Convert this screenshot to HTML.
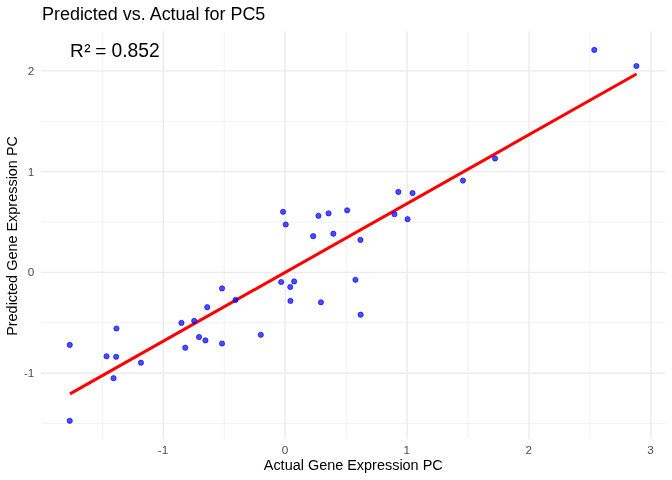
<!DOCTYPE html>
<html><head><meta charset="utf-8"><style>
html,body{margin:0;padding:0;background:#fff;}
svg{display:block;will-change:transform;}
text{font-family:"Liberation Sans",sans-serif;}
.ax{font-size:11.73px;fill:#4D4D4D;}
.ti{font-size:14.45px;fill:#000;}
</style></head><body>
<svg width="672" height="480" viewBox="0 0 672 480">
<rect width="672" height="480" fill="#fff"/>
<line x1="41.1" x2="664.9" y1="423.55" y2="423.55" stroke="#EBEBEB" stroke-width="0.71"/><line x1="41.1" x2="664.9" y1="322.78" y2="322.78" stroke="#EBEBEB" stroke-width="0.71"/><line x1="41.1" x2="664.9" y1="222.01" y2="222.01" stroke="#EBEBEB" stroke-width="0.71"/><line x1="41.1" x2="664.9" y1="121.24" y2="121.24" stroke="#EBEBEB" stroke-width="0.71"/><line x1="102.35" x2="102.35" y1="31.5" y2="439.2" stroke="#EBEBEB" stroke-width="0.71"/><line x1="224.25" x2="224.25" y1="31.5" y2="439.2" stroke="#EBEBEB" stroke-width="0.71"/><line x1="346.15" x2="346.15" y1="31.5" y2="439.2" stroke="#EBEBEB" stroke-width="0.71"/><line x1="468.05" x2="468.05" y1="31.5" y2="439.2" stroke="#EBEBEB" stroke-width="0.71"/><line x1="589.95" x2="589.95" y1="31.5" y2="439.2" stroke="#EBEBEB" stroke-width="0.71"/><line x1="41.1" x2="664.9" y1="373.17" y2="373.17" stroke="#EBEBEB" stroke-width="1.42"/><line x1="41.1" x2="664.9" y1="272.40" y2="272.40" stroke="#EBEBEB" stroke-width="1.42"/><line x1="41.1" x2="664.9" y1="171.63" y2="171.63" stroke="#EBEBEB" stroke-width="1.42"/><line x1="41.1" x2="664.9" y1="70.86" y2="70.86" stroke="#EBEBEB" stroke-width="1.42"/><line x1="163.30" x2="163.30" y1="31.5" y2="439.2" stroke="#EBEBEB" stroke-width="1.42"/><line x1="285.20" x2="285.20" y1="31.5" y2="439.2" stroke="#EBEBEB" stroke-width="1.42"/><line x1="407.10" x2="407.10" y1="31.5" y2="439.2" stroke="#EBEBEB" stroke-width="1.42"/><line x1="529.00" x2="529.00" y1="31.5" y2="439.2" stroke="#EBEBEB" stroke-width="1.42"/><line x1="650.90" x2="650.90" y1="31.5" y2="439.2" stroke="#EBEBEB" stroke-width="1.42"/>
<line x1="70.0" y1="393.9" x2="636.5" y2="74.0" stroke="#FF0000" stroke-width="3.05"/>
<circle cx="69.75" cy="344.90" r="2.6" fill="#0000FF" fill-opacity="0.7" stroke="#0000FF" stroke-opacity="0.7" stroke-width="0.95"/><circle cx="116.45" cy="328.50" r="2.6" fill="#0000FF" fill-opacity="0.7" stroke="#0000FF" stroke-opacity="0.7" stroke-width="0.95"/><circle cx="106.55" cy="356.30" r="2.6" fill="#0000FF" fill-opacity="0.7" stroke="#0000FF" stroke-opacity="0.7" stroke-width="0.95"/><circle cx="116.15" cy="356.80" r="2.6" fill="#0000FF" fill-opacity="0.7" stroke="#0000FF" stroke-opacity="0.7" stroke-width="0.95"/><circle cx="140.95" cy="362.70" r="2.6" fill="#0000FF" fill-opacity="0.7" stroke="#0000FF" stroke-opacity="0.7" stroke-width="0.95"/><circle cx="113.55" cy="378.20" r="2.6" fill="#0000FF" fill-opacity="0.7" stroke="#0000FF" stroke-opacity="0.7" stroke-width="0.95"/><circle cx="69.75" cy="420.80" r="2.6" fill="#0000FF" fill-opacity="0.7" stroke="#0000FF" stroke-opacity="0.7" stroke-width="0.95"/><circle cx="222.05" cy="288.40" r="2.6" fill="#0000FF" fill-opacity="0.7" stroke="#0000FF" stroke-opacity="0.7" stroke-width="0.95"/><circle cx="235.55" cy="299.90" r="2.6" fill="#0000FF" fill-opacity="0.7" stroke="#0000FF" stroke-opacity="0.7" stroke-width="0.95"/><circle cx="207.25" cy="307.20" r="2.6" fill="#0000FF" fill-opacity="0.7" stroke="#0000FF" stroke-opacity="0.7" stroke-width="0.95"/><circle cx="181.45" cy="322.90" r="2.6" fill="#0000FF" fill-opacity="0.7" stroke="#0000FF" stroke-opacity="0.7" stroke-width="0.95"/><circle cx="194.25" cy="320.90" r="2.6" fill="#0000FF" fill-opacity="0.7" stroke="#0000FF" stroke-opacity="0.7" stroke-width="0.95"/><circle cx="199.05" cy="337.00" r="2.6" fill="#0000FF" fill-opacity="0.7" stroke="#0000FF" stroke-opacity="0.7" stroke-width="0.95"/><circle cx="205.45" cy="340.40" r="2.6" fill="#0000FF" fill-opacity="0.7" stroke="#0000FF" stroke-opacity="0.7" stroke-width="0.95"/><circle cx="222.05" cy="343.50" r="2.6" fill="#0000FF" fill-opacity="0.7" stroke="#0000FF" stroke-opacity="0.7" stroke-width="0.95"/><circle cx="185.25" cy="347.70" r="2.6" fill="#0000FF" fill-opacity="0.7" stroke="#0000FF" stroke-opacity="0.7" stroke-width="0.95"/><circle cx="260.80" cy="334.80" r="2.6" fill="#0000FF" fill-opacity="0.7" stroke="#0000FF" stroke-opacity="0.7" stroke-width="0.95"/><circle cx="281.15" cy="282.00" r="2.6" fill="#0000FF" fill-opacity="0.7" stroke="#0000FF" stroke-opacity="0.7" stroke-width="0.95"/><circle cx="294.15" cy="281.45" r="2.6" fill="#0000FF" fill-opacity="0.7" stroke="#0000FF" stroke-opacity="0.7" stroke-width="0.95"/><circle cx="290.25" cy="287.00" r="2.6" fill="#0000FF" fill-opacity="0.7" stroke="#0000FF" stroke-opacity="0.7" stroke-width="0.95"/><circle cx="290.45" cy="300.90" r="2.6" fill="#0000FF" fill-opacity="0.7" stroke="#0000FF" stroke-opacity="0.7" stroke-width="0.95"/><circle cx="320.95" cy="302.30" r="2.6" fill="#0000FF" fill-opacity="0.7" stroke="#0000FF" stroke-opacity="0.7" stroke-width="0.95"/><circle cx="355.45" cy="279.80" r="2.6" fill="#0000FF" fill-opacity="0.7" stroke="#0000FF" stroke-opacity="0.7" stroke-width="0.95"/><circle cx="360.65" cy="314.70" r="2.6" fill="#0000FF" fill-opacity="0.7" stroke="#0000FF" stroke-opacity="0.7" stroke-width="0.95"/><circle cx="283.05" cy="211.80" r="2.6" fill="#0000FF" fill-opacity="0.7" stroke="#0000FF" stroke-opacity="0.7" stroke-width="0.95"/><circle cx="285.75" cy="224.50" r="2.6" fill="#0000FF" fill-opacity="0.7" stroke="#0000FF" stroke-opacity="0.7" stroke-width="0.95"/><circle cx="318.45" cy="215.80" r="2.6" fill="#0000FF" fill-opacity="0.7" stroke="#0000FF" stroke-opacity="0.7" stroke-width="0.95"/><circle cx="328.55" cy="213.40" r="2.6" fill="#0000FF" fill-opacity="0.7" stroke="#0000FF" stroke-opacity="0.7" stroke-width="0.95"/><circle cx="347.15" cy="210.30" r="2.6" fill="#0000FF" fill-opacity="0.7" stroke="#0000FF" stroke-opacity="0.7" stroke-width="0.95"/><circle cx="313.15" cy="236.20" r="2.6" fill="#0000FF" fill-opacity="0.7" stroke="#0000FF" stroke-opacity="0.7" stroke-width="0.95"/><circle cx="333.35" cy="233.70" r="2.6" fill="#0000FF" fill-opacity="0.7" stroke="#0000FF" stroke-opacity="0.7" stroke-width="0.95"/><circle cx="360.45" cy="239.90" r="2.6" fill="#0000FF" fill-opacity="0.7" stroke="#0000FF" stroke-opacity="0.7" stroke-width="0.95"/><circle cx="398.35" cy="191.90" r="2.6" fill="#0000FF" fill-opacity="0.7" stroke="#0000FF" stroke-opacity="0.7" stroke-width="0.95"/><circle cx="412.55" cy="193.10" r="2.6" fill="#0000FF" fill-opacity="0.7" stroke="#0000FF" stroke-opacity="0.7" stroke-width="0.95"/><circle cx="394.45" cy="214.20" r="2.6" fill="#0000FF" fill-opacity="0.7" stroke="#0000FF" stroke-opacity="0.7" stroke-width="0.95"/><circle cx="407.55" cy="219.20" r="2.6" fill="#0000FF" fill-opacity="0.7" stroke="#0000FF" stroke-opacity="0.7" stroke-width="0.95"/><circle cx="462.95" cy="180.60" r="2.6" fill="#0000FF" fill-opacity="0.7" stroke="#0000FF" stroke-opacity="0.7" stroke-width="0.95"/><circle cx="495.05" cy="158.50" r="2.6" fill="#0000FF" fill-opacity="0.7" stroke="#0000FF" stroke-opacity="0.7" stroke-width="0.95"/><circle cx="594.30" cy="49.90" r="2.6" fill="#0000FF" fill-opacity="0.7" stroke="#0000FF" stroke-opacity="0.7" stroke-width="0.95"/><circle cx="636.40" cy="66.00" r="2.6" fill="#0000FF" fill-opacity="0.7" stroke="#0000FF" stroke-opacity="0.7" stroke-width="0.95"/>
<text x="34.4" y="377.17" text-anchor="end" class="ax">-1</text><text x="34.4" y="276.40" text-anchor="end" class="ax">0</text><text x="34.4" y="175.63" text-anchor="end" class="ax">1</text><text x="34.4" y="74.86" text-anchor="end" class="ax">2</text><text x="163.00" y="454" text-anchor="middle" class="ax">-1</text><text x="284.90" y="454" text-anchor="middle" class="ax">0</text><text x="406.80" y="454" text-anchor="middle" class="ax">1</text><text x="528.70" y="454" text-anchor="middle" class="ax">2</text><text x="650.60" y="454" text-anchor="middle" class="ax">3</text>
<text x="42" y="19.6" style="font-size:17.95px" fill="#000">Predicted vs. Actual for PC5</text>
<text x="353.25" y="469.6" text-anchor="middle" class="ti">Actual Gene Expression PC</text>
<text transform="translate(17,235.95) rotate(-90)" text-anchor="middle" class="ti">Predicted Gene Expression PC</text>
<text x="70.0" y="56.6" style="font-size:19px" fill="#000">R<tspan dx="0.5">²</tspan><tspan dx="-0.5"> =</tspan><tspan dx="-0.3" style="font-size:19.3px"> 0.852</tspan></text>
</svg>
</body></html>
